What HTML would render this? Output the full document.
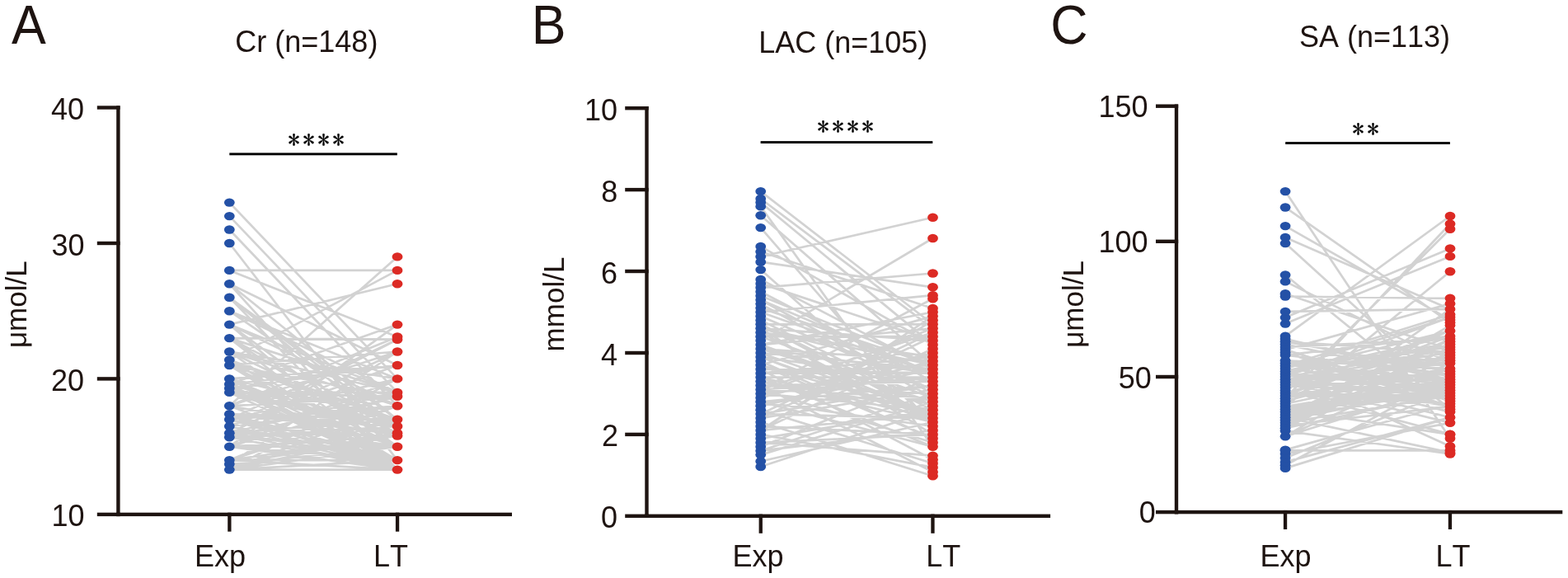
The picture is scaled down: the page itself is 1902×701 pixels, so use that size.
<!DOCTYPE html><html><head><meta charset="utf-8"><style>html,body{margin:0;padding:0;background:#fff;}svg{display:block}.s{font-family:"Liberation Sans",Arial,sans-serif;fill:#1e1411}.t{font-family:"IPAGothic","Liberation Serif",serif;fill:#000;stroke:#000;stroke-width:0.2px}text{font-kerning:none}</style></head><body>
<svg width="1902" height="701" viewBox="0 0 1902 701">
<rect width="1902" height="701" fill="#fff"/>
<path d="M278.3 245.6L482 459.4M278.3 262.1L482 475.9M278.3 278.5L482 492.3M278.3 295L482 558.1M278.3 327.9L482 327.9M278.3 327.9L482 408.4M278.3 492.3L482 311.4M278.3 436.4L482 327.9M278.3 393.6L482 344.3M278.3 475.9L482 525.2M278.3 470.9L482 558.1M278.3 569.6L482 558.1M278.3 569.6L482 569.6M278.3 525.2L482 569.6M278.3 502.2L482 525.2M278.3 569.6L482 569.6M278.3 569.6L482 569.6M278.3 459.4L482 569.6M278.3 517L482 492.3M278.3 569.6L482 558.1M278.3 541.7L482 541.7M278.3 502.2L482 569.6M278.3 517L482 411.7M278.3 517L482 569.6M278.3 569.6L482 569.6M278.3 530.2L482 517M278.3 410.1L482 569.6M278.3 475.9L482 569.6M278.3 508.8L482 569.6M278.3 492.3L482 528.5M278.3 436.4L482 525.2M278.3 426.5L482 525.2M278.3 459.4L482 541.7M278.3 558.1L482 558.1M278.3 502.2L482 569.6M278.3 459.4L482 508.8M278.3 530.2L482 541.7M278.3 470.9L482 569.6M278.3 443L482 508.8M278.3 530.2L482 480.8M278.3 459.4L482 569.6M278.3 563L482 541.7M278.3 569.6L482 569.6M278.3 525.2L482 558.1M278.3 517L482 558.1M278.3 569.6L482 541.7M278.3 569.6L482 569.6M278.3 569.6L482 492.3M278.3 525.2L482 475.9M278.3 502.2L482 558.1M278.3 569.6L482 525.2M278.3 569.6L482 569.6M278.3 436.4L482 508.8M278.3 470.9L482 525.2M278.3 541.7L482 558.1M278.3 475.9L482 480.8M278.3 525.2L482 508.8M278.3 344.3L482 569.6M278.3 466L482 517M278.3 541.7L482 558.1M278.3 563L482 528.5M278.3 558.1L482 528.5M278.3 558.1L482 569.6M278.3 426.5L482 569.6M278.3 443L482 558.1M278.3 558.1L482 475.9M278.3 492.3L482 569.6M278.3 563L482 528.5M278.3 443L482 480.8M278.3 508.8L482 541.7M278.3 541.7L482 459.4M278.3 393.6L482 475.9M278.3 541.7L482 528.5M278.3 492.3L482 408.4M278.3 502.2L482 517M278.3 459.4L482 541.7M278.3 475.9L482 517M278.3 569.6L482 569.6M278.3 470.9L482 569.6M278.3 569.6L482 459.4M278.3 541.7L482 569.6M278.3 492.3L482 569.6M278.3 508.8L482 459.4M278.3 466L482 569.6M278.3 475.9L482 525.2M278.3 443L482 569.6M278.3 436.4L482 517M278.3 410.1L482 541.7M278.3 508.8L482 492.3M278.3 466L482 443M278.3 344.3L482 508.8M278.3 558.1L482 492.3M278.3 475.9L482 475.9M278.3 466L482 525.2M278.3 530.2L482 517M278.3 541.7L482 393.6M278.3 443L482 569.6M278.3 410.1L482 517M278.3 525.2L482 426.5M278.3 525.2L482 569.6M278.3 377.2L482 517M278.3 344.3L482 443M278.3 558.1L482 492.3M278.3 410.1L482 569.6M278.3 475.9L482 541.7M278.3 492.3L482 480.8M278.3 508.8L482 558.1M278.3 525.2L482 528.5M278.3 558.1L482 569.6M278.3 426.5L482 525.2M278.3 569.6L482 508.8M278.3 393.6L482 569.6M278.3 508.8L482 569.6M278.3 470.9L482 443M278.3 393.6L482 541.7M278.3 459.4L482 443M278.3 459.4L482 541.7M278.3 541.7L482 480.8M278.3 502.2L482 508.8M278.3 525.2L482 508.8M278.3 563L482 525.2M278.3 393.6L482 492.3M278.3 569.6L482 508.8M278.3 377.2L482 459.4M278.3 443L482 541.7M278.3 508.8L482 411.7M278.3 410.1L482 475.9M278.3 426.5L482 475.9M278.3 360.8L482 569.6M278.3 517L482 492.3M278.3 436.4L482 558.1M278.3 426.5L482 569.6M278.3 517L482 443M278.3 360.8L482 517M278.3 360.8L482 528.5M278.3 492.3L482 528.5M278.3 466L482 393.6M278.3 459.4L482 558.1M278.3 377.2L482 459.4M278.3 492.3L482 426.5M278.3 426.5L482 459.4M278.3 426.5L482 492.3M278.3 530.2L482 569.6M278.3 377.2L482 475.9M278.3 360.8L482 508.8M278.3 563L482 426.5M278.3 443L482 426.5M278.3 410.1L482 411.7" stroke="#d2d2d2" stroke-width="2.7" fill="none"/>
<g fill="#2451a6"><ellipse cx="278.3" cy="569.6" rx="6.4" ry="5.2"/><ellipse cx="278.3" cy="563" rx="6.4" ry="5.2"/><ellipse cx="278.3" cy="558.1" rx="6.4" ry="5.2"/><ellipse cx="278.3" cy="541.7" rx="6.4" ry="5.2"/><ellipse cx="278.3" cy="530.2" rx="6.4" ry="5.2"/><ellipse cx="278.3" cy="525.2" rx="6.4" ry="5.2"/><ellipse cx="278.3" cy="517" rx="6.4" ry="5.2"/><ellipse cx="278.3" cy="508.8" rx="6.4" ry="5.2"/><ellipse cx="278.3" cy="502.2" rx="6.4" ry="5.2"/><ellipse cx="278.3" cy="492.3" rx="6.4" ry="5.2"/><ellipse cx="278.3" cy="475.9" rx="6.4" ry="5.2"/><ellipse cx="278.3" cy="470.9" rx="6.4" ry="5.2"/><ellipse cx="278.3" cy="466" rx="6.4" ry="5.2"/><ellipse cx="278.3" cy="459.4" rx="6.4" ry="5.2"/><ellipse cx="278.3" cy="443" rx="6.4" ry="5.2"/><ellipse cx="278.3" cy="436.4" rx="6.4" ry="5.2"/><ellipse cx="278.3" cy="426.5" rx="6.4" ry="5.2"/><ellipse cx="278.3" cy="410.1" rx="6.4" ry="5.2"/><ellipse cx="278.3" cy="393.6" rx="6.4" ry="5.2"/><ellipse cx="278.3" cy="377.2" rx="6.4" ry="5.2"/><ellipse cx="278.3" cy="360.8" rx="6.4" ry="5.2"/><ellipse cx="278.3" cy="344.3" rx="6.4" ry="5.2"/><ellipse cx="278.3" cy="327.9" rx="6.4" ry="5.2"/><ellipse cx="278.3" cy="295" rx="6.4" ry="5.2"/><ellipse cx="278.3" cy="278.5" rx="6.4" ry="5.2"/><ellipse cx="278.3" cy="262.1" rx="6.4" ry="5.2"/><ellipse cx="278.3" cy="245.6" rx="6.4" ry="5.2"/></g>
<g fill="#dc2a24"><ellipse cx="482" cy="569.6" rx="6.4" ry="5.2"/><ellipse cx="482" cy="558.1" rx="6.4" ry="5.2"/><ellipse cx="482" cy="541.7" rx="6.4" ry="5.2"/><ellipse cx="482" cy="528.5" rx="6.4" ry="5.2"/><ellipse cx="482" cy="525.2" rx="6.4" ry="5.2"/><ellipse cx="482" cy="517" rx="6.4" ry="5.2"/><ellipse cx="482" cy="508.8" rx="6.4" ry="5.2"/><ellipse cx="482" cy="492.3" rx="6.4" ry="5.2"/><ellipse cx="482" cy="480.8" rx="6.4" ry="5.2"/><ellipse cx="482" cy="475.9" rx="6.4" ry="5.2"/><ellipse cx="482" cy="459.4" rx="6.4" ry="5.2"/><ellipse cx="482" cy="443" rx="6.4" ry="5.2"/><ellipse cx="482" cy="426.5" rx="6.4" ry="5.2"/><ellipse cx="482" cy="411.7" rx="6.4" ry="5.2"/><ellipse cx="482" cy="408.4" rx="6.4" ry="5.2"/><ellipse cx="482" cy="393.6" rx="6.4" ry="5.2"/><ellipse cx="482" cy="344.3" rx="6.4" ry="5.2"/><ellipse cx="482" cy="327.9" rx="6.4" ry="5.2"/><ellipse cx="482" cy="311.4" rx="6.4" ry="5.2"/></g>
<g fill="#1e1411"><rect x="141.2" y="128.3" width="4.4" height="497.8"/><rect x="117.8" y="621.7" width="27.8" height="4.4"/><rect x="117.8" y="457.2" width="27.8" height="4.4"/><rect x="117.8" y="292.8" width="27.8" height="4.4"/><rect x="117.8" y="128.3" width="27.8" height="4.4"/><rect x="141.2" y="621.7" width="479.8" height="4.4"/><rect x="276.2" y="621.7" width="4.3" height="23"/><rect x="479.9" y="621.7" width="4.3" height="23"/></g>
<path d="M922.7 311.2L1131.5 263.8M922.7 413.1L1131.5 289M922.7 232.1L1131.5 393.3M922.7 241L1131.5 398.3M922.7 245.5L1131.5 418.1M922.7 250.4L1131.5 541.7M922.7 261.3L1131.5 442.8M922.7 276.1L1131.5 517M922.7 298.9L1131.5 418.1M922.7 317.7L1131.5 348.3M922.7 305.3L1131.5 374M922.7 566L1131.5 497.2M922.7 559.5L1131.5 512M922.7 551.6L1131.5 487.3M922.7 546.7L1131.5 521.9M922.7 512L1131.5 577.3M922.7 526.9L1131.5 566.9M922.7 497.2L1131.5 562M922.7 536.8L1131.5 552.6M922.7 467.5L1131.5 572.4M922.7 447.7L1131.5 557.5M922.7 541.7L1131.5 457.6M922.7 546.7L1131.5 477.4M922.7 536.8L1131.5 526.9M922.7 531.8L1131.5 497.2M922.7 521.9L1131.5 388.4M922.7 521.9L1131.5 383.4M922.7 521.9L1131.5 423M922.7 521.9L1131.5 502.1M922.7 517L1131.5 526.9M922.7 507.1L1131.5 408.2M922.7 507.1L1131.5 472.5M922.7 502.1L1131.5 467.5M922.7 502.1L1131.5 507.1M922.7 502.1L1131.5 403.2M922.7 492.3L1131.5 447.7M922.7 492.3L1131.5 437.9M922.7 487.3L1131.5 467.5M922.7 487.3L1131.5 517M922.7 487.3L1131.5 541.7M922.7 487.3L1131.5 517M922.7 482.4L1131.5 428M922.7 477.4L1131.5 398.3M922.7 477.4L1131.5 457.6M922.7 477.4L1131.5 497.2M922.7 472.5L1131.5 362.2M922.7 472.5L1131.5 457.6M922.7 472.5L1131.5 536.8M922.7 472.5L1131.5 457.6M922.7 472.5L1131.5 482.4M922.7 472.5L1131.5 403.2M922.7 467.5L1131.5 462.6M922.7 467.5L1131.5 477.4M922.7 462.6L1131.5 512M922.7 462.6L1131.5 497.2M922.7 462.6L1131.5 512M922.7 457.6L1131.5 457.6M922.7 457.6L1131.5 507.1M922.7 457.6L1131.5 541.7M922.7 452.7L1131.5 442.8M922.7 452.7L1131.5 432.9M922.7 452.7L1131.5 452.7M922.7 447.7L1131.5 452.7M922.7 442.8L1131.5 502.1M922.7 442.8L1131.5 531.8M922.7 442.8L1131.5 383.4M922.7 437.9L1131.5 531.8M922.7 432.9L1131.5 462.6M922.7 432.9L1131.5 507.1M922.7 432.9L1131.5 512M922.7 428L1131.5 447.7M922.7 428L1131.5 502.1M922.7 423L1131.5 452.7M922.7 423L1131.5 437.9M922.7 423L1131.5 487.3M922.7 418.1L1131.5 378.5M922.7 418.1L1131.5 492.3M922.7 418.1L1131.5 507.1M922.7 418.1L1131.5 502.1M922.7 418.1L1131.5 398.3M922.7 408.2L1131.5 408.2M922.7 408.2L1131.5 482.4M922.7 403.2L1131.5 432.9M922.7 403.2L1131.5 512M922.7 398.3L1131.5 526.9M922.7 398.3L1131.5 413.1M922.7 398.3L1131.5 452.7M922.7 398.3L1131.5 442.8M922.7 393.3L1131.5 497.2M922.7 393.3L1131.5 507.1M922.7 393.3L1131.5 393.3M922.7 388.4L1131.5 492.3M922.7 383.4L1131.5 472.5M922.7 378.5L1131.5 358.2M922.7 378.5L1131.5 452.7M922.7 373.6L1131.5 442.8M922.7 368.6L1131.5 482.4M922.7 363.7L1131.5 452.7M922.7 363.7L1131.5 477.4M922.7 358.7L1131.5 442.8M922.7 353.8L1131.5 462.6M922.7 348.8L1131.5 331.5M922.7 343.9L1131.5 413.1M922.7 338.9L1131.5 447.7M922.7 327.1L1131.5 512" stroke="#d2d2d2" stroke-width="2.7" fill="none"/>
<g fill="#2451a6"><ellipse cx="922.7" cy="566" rx="6.4" ry="5.2"/><ellipse cx="922.7" cy="559.5" rx="6.4" ry="5.2"/><ellipse cx="922.7" cy="551.6" rx="6.4" ry="5.2"/><ellipse cx="922.7" cy="546.7" rx="6.4" ry="5.2"/><ellipse cx="922.7" cy="541.7" rx="6.4" ry="5.2"/><ellipse cx="922.7" cy="536.8" rx="6.4" ry="5.2"/><ellipse cx="922.7" cy="531.8" rx="6.4" ry="5.2"/><ellipse cx="922.7" cy="526.9" rx="6.4" ry="5.2"/><ellipse cx="922.7" cy="521.9" rx="6.4" ry="5.2"/><ellipse cx="922.7" cy="517" rx="6.4" ry="5.2"/><ellipse cx="922.7" cy="512" rx="6.4" ry="5.2"/><ellipse cx="922.7" cy="507.1" rx="6.4" ry="5.2"/><ellipse cx="922.7" cy="502.1" rx="6.4" ry="5.2"/><ellipse cx="922.7" cy="497.2" rx="6.4" ry="5.2"/><ellipse cx="922.7" cy="492.3" rx="6.4" ry="5.2"/><ellipse cx="922.7" cy="487.3" rx="6.4" ry="5.2"/><ellipse cx="922.7" cy="482.4" rx="6.4" ry="5.2"/><ellipse cx="922.7" cy="477.4" rx="6.4" ry="5.2"/><ellipse cx="922.7" cy="472.5" rx="6.4" ry="5.2"/><ellipse cx="922.7" cy="467.5" rx="6.4" ry="5.2"/><ellipse cx="922.7" cy="462.6" rx="6.4" ry="5.2"/><ellipse cx="922.7" cy="457.6" rx="6.4" ry="5.2"/><ellipse cx="922.7" cy="452.7" rx="6.4" ry="5.2"/><ellipse cx="922.7" cy="447.7" rx="6.4" ry="5.2"/><ellipse cx="922.7" cy="442.8" rx="6.4" ry="5.2"/><ellipse cx="922.7" cy="437.9" rx="6.4" ry="5.2"/><ellipse cx="922.7" cy="432.9" rx="6.4" ry="5.2"/><ellipse cx="922.7" cy="428" rx="6.4" ry="5.2"/><ellipse cx="922.7" cy="423" rx="6.4" ry="5.2"/><ellipse cx="922.7" cy="418.1" rx="6.4" ry="5.2"/><ellipse cx="922.7" cy="413.1" rx="6.4" ry="5.2"/><ellipse cx="922.7" cy="408.2" rx="6.4" ry="5.2"/><ellipse cx="922.7" cy="403.2" rx="6.4" ry="5.2"/><ellipse cx="922.7" cy="398.3" rx="6.4" ry="5.2"/><ellipse cx="922.7" cy="393.3" rx="6.4" ry="5.2"/><ellipse cx="922.7" cy="388.4" rx="6.4" ry="5.2"/><ellipse cx="922.7" cy="383.4" rx="6.4" ry="5.2"/><ellipse cx="922.7" cy="378.5" rx="6.4" ry="5.2"/><ellipse cx="922.7" cy="373.6" rx="6.4" ry="5.2"/><ellipse cx="922.7" cy="368.6" rx="6.4" ry="5.2"/><ellipse cx="922.7" cy="363.7" rx="6.4" ry="5.2"/><ellipse cx="922.7" cy="358.7" rx="6.4" ry="5.2"/><ellipse cx="922.7" cy="353.8" rx="6.4" ry="5.2"/><ellipse cx="922.7" cy="348.8" rx="6.4" ry="5.2"/><ellipse cx="922.7" cy="343.9" rx="6.4" ry="5.2"/><ellipse cx="922.7" cy="338.9" rx="6.4" ry="5.2"/><ellipse cx="922.7" cy="327.1" rx="6.4" ry="5.2"/><ellipse cx="922.7" cy="317.7" rx="6.4" ry="5.2"/><ellipse cx="922.7" cy="311.2" rx="6.4" ry="5.2"/><ellipse cx="922.7" cy="305.3" rx="6.4" ry="5.2"/><ellipse cx="922.7" cy="298.9" rx="6.4" ry="5.2"/><ellipse cx="922.7" cy="276.1" rx="6.4" ry="5.2"/><ellipse cx="922.7" cy="261.3" rx="6.4" ry="5.2"/><ellipse cx="922.7" cy="250.4" rx="6.4" ry="5.2"/><ellipse cx="922.7" cy="245.5" rx="6.4" ry="5.2"/><ellipse cx="922.7" cy="241" rx="6.4" ry="5.2"/><ellipse cx="922.7" cy="232.1" rx="6.4" ry="5.2"/></g>
<g fill="#dc2a24"><ellipse cx="1131.5" cy="577.3" rx="6.4" ry="5.2"/><ellipse cx="1131.5" cy="572.4" rx="6.4" ry="5.2"/><ellipse cx="1131.5" cy="566.9" rx="6.4" ry="5.2"/><ellipse cx="1131.5" cy="562" rx="6.4" ry="5.2"/><ellipse cx="1131.5" cy="557.5" rx="6.4" ry="5.2"/><ellipse cx="1131.5" cy="552.6" rx="6.4" ry="5.2"/><ellipse cx="1131.5" cy="541.7" rx="6.4" ry="5.2"/><ellipse cx="1131.5" cy="536.8" rx="6.4" ry="5.2"/><ellipse cx="1131.5" cy="531.8" rx="6.4" ry="5.2"/><ellipse cx="1131.5" cy="526.9" rx="6.4" ry="5.2"/><ellipse cx="1131.5" cy="521.9" rx="6.4" ry="5.2"/><ellipse cx="1131.5" cy="517" rx="6.4" ry="5.2"/><ellipse cx="1131.5" cy="512" rx="6.4" ry="5.2"/><ellipse cx="1131.5" cy="507.1" rx="6.4" ry="5.2"/><ellipse cx="1131.5" cy="502.1" rx="6.4" ry="5.2"/><ellipse cx="1131.5" cy="497.2" rx="6.4" ry="5.2"/><ellipse cx="1131.5" cy="492.3" rx="6.4" ry="5.2"/><ellipse cx="1131.5" cy="487.3" rx="6.4" ry="5.2"/><ellipse cx="1131.5" cy="482.4" rx="6.4" ry="5.2"/><ellipse cx="1131.5" cy="477.4" rx="6.4" ry="5.2"/><ellipse cx="1131.5" cy="472.5" rx="6.4" ry="5.2"/><ellipse cx="1131.5" cy="467.5" rx="6.4" ry="5.2"/><ellipse cx="1131.5" cy="462.6" rx="6.4" ry="5.2"/><ellipse cx="1131.5" cy="457.6" rx="6.4" ry="5.2"/><ellipse cx="1131.5" cy="452.7" rx="6.4" ry="5.2"/><ellipse cx="1131.5" cy="447.7" rx="6.4" ry="5.2"/><ellipse cx="1131.5" cy="442.8" rx="6.4" ry="5.2"/><ellipse cx="1131.5" cy="437.9" rx="6.4" ry="5.2"/><ellipse cx="1131.5" cy="432.9" rx="6.4" ry="5.2"/><ellipse cx="1131.5" cy="428" rx="6.4" ry="5.2"/><ellipse cx="1131.5" cy="423" rx="6.4" ry="5.2"/><ellipse cx="1131.5" cy="418.1" rx="6.4" ry="5.2"/><ellipse cx="1131.5" cy="413.1" rx="6.4" ry="5.2"/><ellipse cx="1131.5" cy="408.2" rx="6.4" ry="5.2"/><ellipse cx="1131.5" cy="403.2" rx="6.4" ry="5.2"/><ellipse cx="1131.5" cy="398.3" rx="6.4" ry="5.2"/><ellipse cx="1131.5" cy="393.3" rx="6.4" ry="5.2"/><ellipse cx="1131.5" cy="388.4" rx="6.4" ry="5.2"/><ellipse cx="1131.5" cy="383.4" rx="6.4" ry="5.2"/><ellipse cx="1131.5" cy="378.5" rx="6.4" ry="5.2"/><ellipse cx="1131.5" cy="374" rx="6.4" ry="5.2"/><ellipse cx="1131.5" cy="362.2" rx="6.4" ry="5.2"/><ellipse cx="1131.5" cy="358.2" rx="6.4" ry="5.2"/><ellipse cx="1131.5" cy="348.3" rx="6.4" ry="5.2"/><ellipse cx="1131.5" cy="331.5" rx="6.4" ry="5.2"/><ellipse cx="1131.5" cy="289" rx="6.4" ry="5.2"/><ellipse cx="1131.5" cy="263.8" rx="6.4" ry="5.2"/></g>
<g fill="#1e1411"><rect x="782.3" y="129" width="4.4" height="499"/><rect x="758.2" y="623.6" width="28.5" height="4.4"/><rect x="758.2" y="524.7" width="28.5" height="4.4"/><rect x="758.2" y="425.8" width="28.5" height="4.4"/><rect x="758.2" y="326.8" width="28.5" height="4.4"/><rect x="758.2" y="227.9" width="28.5" height="4.4"/><rect x="758.2" y="129" width="28.5" height="4.4"/><rect x="782.3" y="623.6" width="491.8" height="4.4"/><rect x="920.6" y="623.6" width="4.3" height="23.2"/><rect x="1129.3" y="623.6" width="4.3" height="23.2"/></g>
<path d="M1559.1 546.3L1759 546.3M1559.1 359.5L1759 361.8M1559.1 377.9L1759 374.9M1559.1 232.1L1759 531.8M1559.1 251.5L1759 391.3M1559.1 274.1L1759 388M1559.1 287.9L1759 374.9M1559.1 295.1L1759 476.7M1559.1 407.7L1759 262M1559.1 483.2L1759 271.5M1559.1 476.7L1759 277.7M1559.1 385.1L1759 301.4M1559.1 392.6L1759 310.9M1559.1 493.1L1759 329.3M1559.1 333.5L1759 496.4M1559.1 341.4L1759 440.6M1559.1 356.2L1759 424.1M1559.1 411L1759 457M1559.1 545.6L1759 489.8M1559.1 550.5L1759 512.8M1559.1 555.4L1759 473.4M1559.1 560.4L1759 506.2M1559.1 564.3L1759 457M1559.1 567.9L1759 506.2M1559.1 473.4L1759 526.6M1559.1 496.4L1759 526.9M1559.1 450.4L1759 541.3M1559.1 506.2L1759 548.9M1559.1 522.6L1759 550.5M1559.1 529.2L1759 466.8M1559.1 529.2L1759 440.6M1559.1 529.2L1759 411M1559.1 519.3L1759 476.7M1559.1 519.3L1759 420.9M1559.1 516.1L1759 427.4M1559.1 516.1L1759 493.1M1559.1 516.1L1759 374.9M1559.1 516.1L1759 411M1559.1 512.8L1759 427.4M1559.1 512.8L1759 447.1M1559.1 512.8L1759 394.6M1559.1 512.8L1759 479.9M1559.1 509.5L1759 466.8M1559.1 509.5L1759 470.1M1559.1 506.2L1759 447.1M1559.1 506.2L1759 473.4M1559.1 506.2L1759 447.1M1559.1 506.2L1759 411M1559.1 502.9L1759 411M1559.1 502.9L1759 460.2M1559.1 499.6L1759 463.5M1559.1 496.4L1759 463.5M1559.1 496.4L1759 476.7M1559.1 496.4L1759 479.9M1559.1 493.1L1759 473.4M1559.1 493.1L1759 460.2M1559.1 489.8L1759 447.1M1559.1 489.8L1759 447.1M1559.1 486.5L1759 434M1559.1 486.5L1759 434M1559.1 483.2L1759 437.3M1559.1 483.2L1759 407.7M1559.1 479.9L1759 401.2M1559.1 479.9L1759 447.1M1559.1 476.7L1759 417.6M1559.1 476.7L1759 489.8M1559.1 476.7L1759 479.9M1559.1 470.1L1759 434M1559.1 470.1L1759 430.7M1559.1 470.1L1759 401.2M1559.1 466.8L1759 460.2M1559.1 466.8L1759 479.9M1559.1 463.5L1759 476.7M1559.1 463.5L1759 414.3M1559.1 463.5L1759 440.6M1559.1 463.5L1759 466.8M1559.1 463.5L1759 512.8M1559.1 460.2L1759 483.2M1559.1 460.2L1759 460.2M1559.1 460.2L1759 440.6M1559.1 460.2L1759 453.7M1559.1 460.2L1759 427.4M1559.1 457L1759 493.1M1559.1 457L1759 506.2M1559.1 457L1759 384.7M1559.1 457L1759 424.1M1559.1 453.7L1759 407.7M1559.1 453.7L1759 473.4M1559.1 450.4L1759 401.2M1559.1 450.4L1759 420.9M1559.1 450.4L1759 499.6M1559.1 447.1L1759 470.1M1559.1 447.1L1759 384.7M1559.1 443.8L1759 434M1559.1 443.8L1759 420.9M1559.1 443.8L1759 381.5M1559.1 440.6L1759 466.8M1559.1 440.6L1759 460.2M1559.1 437.3L1759 447.1M1559.1 437.3L1759 479.9M1559.1 437.3L1759 473.4M1559.1 437.3L1759 493.1M1559.1 430.7L1759 407.7M1559.1 430.7L1759 453.7M1559.1 430.7L1759 407.7M1559.1 427.4L1759 493.1M1559.1 424.1L1759 486.5M1559.1 424.1L1759 368.3M1559.1 420.9L1759 411M1559.1 417.6L1759 460.2M1559.1 414.3L1759 450.4M1559.1 414.3L1759 427.4M1559.1 411L1759 463.5" stroke="#d2d2d2" stroke-width="2.7" fill="none"/>
<g fill="#2451a6"><ellipse cx="1559.1" cy="567.9" rx="6.4" ry="5.2"/><ellipse cx="1559.1" cy="564.3" rx="6.4" ry="5.2"/><ellipse cx="1559.1" cy="560.4" rx="6.4" ry="5.2"/><ellipse cx="1559.1" cy="555.4" rx="6.4" ry="5.2"/><ellipse cx="1559.1" cy="550.5" rx="6.4" ry="5.2"/><ellipse cx="1559.1" cy="546.3" rx="6.4" ry="5.2"/><ellipse cx="1559.1" cy="545.6" rx="6.4" ry="5.2"/><ellipse cx="1559.1" cy="529.2" rx="6.4" ry="5.2"/><ellipse cx="1559.1" cy="522.6" rx="6.4" ry="5.2"/><ellipse cx="1559.1" cy="519.3" rx="6.4" ry="5.2"/><ellipse cx="1559.1" cy="516.1" rx="6.4" ry="5.2"/><ellipse cx="1559.1" cy="512.8" rx="6.4" ry="5.2"/><ellipse cx="1559.1" cy="509.5" rx="6.4" ry="5.2"/><ellipse cx="1559.1" cy="506.2" rx="6.4" ry="5.2"/><ellipse cx="1559.1" cy="502.9" rx="6.4" ry="5.2"/><ellipse cx="1559.1" cy="499.6" rx="6.4" ry="5.2"/><ellipse cx="1559.1" cy="496.4" rx="6.4" ry="5.2"/><ellipse cx="1559.1" cy="493.1" rx="6.4" ry="5.2"/><ellipse cx="1559.1" cy="489.8" rx="6.4" ry="5.2"/><ellipse cx="1559.1" cy="486.5" rx="6.4" ry="5.2"/><ellipse cx="1559.1" cy="483.2" rx="6.4" ry="5.2"/><ellipse cx="1559.1" cy="479.9" rx="6.4" ry="5.2"/><ellipse cx="1559.1" cy="476.7" rx="6.4" ry="5.2"/><ellipse cx="1559.1" cy="473.4" rx="6.4" ry="5.2"/><ellipse cx="1559.1" cy="470.1" rx="6.4" ry="5.2"/><ellipse cx="1559.1" cy="466.8" rx="6.4" ry="5.2"/><ellipse cx="1559.1" cy="463.5" rx="6.4" ry="5.2"/><ellipse cx="1559.1" cy="460.2" rx="6.4" ry="5.2"/><ellipse cx="1559.1" cy="457" rx="6.4" ry="5.2"/><ellipse cx="1559.1" cy="453.7" rx="6.4" ry="5.2"/><ellipse cx="1559.1" cy="450.4" rx="6.4" ry="5.2"/><ellipse cx="1559.1" cy="447.1" rx="6.4" ry="5.2"/><ellipse cx="1559.1" cy="443.8" rx="6.4" ry="5.2"/><ellipse cx="1559.1" cy="440.6" rx="6.4" ry="5.2"/><ellipse cx="1559.1" cy="437.3" rx="6.4" ry="5.2"/><ellipse cx="1559.1" cy="430.7" rx="6.4" ry="5.2"/><ellipse cx="1559.1" cy="427.4" rx="6.4" ry="5.2"/><ellipse cx="1559.1" cy="424.1" rx="6.4" ry="5.2"/><ellipse cx="1559.1" cy="420.9" rx="6.4" ry="5.2"/><ellipse cx="1559.1" cy="417.6" rx="6.4" ry="5.2"/><ellipse cx="1559.1" cy="414.3" rx="6.4" ry="5.2"/><ellipse cx="1559.1" cy="411" rx="6.4" ry="5.2"/><ellipse cx="1559.1" cy="407.7" rx="6.4" ry="5.2"/><ellipse cx="1559.1" cy="392.6" rx="6.4" ry="5.2"/><ellipse cx="1559.1" cy="385.1" rx="6.4" ry="5.2"/><ellipse cx="1559.1" cy="377.9" rx="6.4" ry="5.2"/><ellipse cx="1559.1" cy="359.5" rx="6.4" ry="5.2"/><ellipse cx="1559.1" cy="356.2" rx="6.4" ry="5.2"/><ellipse cx="1559.1" cy="341.4" rx="6.4" ry="5.2"/><ellipse cx="1559.1" cy="333.5" rx="6.4" ry="5.2"/><ellipse cx="1559.1" cy="295.1" rx="6.4" ry="5.2"/><ellipse cx="1559.1" cy="287.9" rx="6.4" ry="5.2"/><ellipse cx="1559.1" cy="274.1" rx="6.4" ry="5.2"/><ellipse cx="1559.1" cy="251.5" rx="6.4" ry="5.2"/><ellipse cx="1559.1" cy="232.1" rx="6.4" ry="5.2"/></g>
<g fill="#dc2a24"><ellipse cx="1759" cy="550.5" rx="6.4" ry="5.2"/><ellipse cx="1759" cy="548.9" rx="6.4" ry="5.2"/><ellipse cx="1759" cy="546.3" rx="6.4" ry="5.2"/><ellipse cx="1759" cy="541.3" rx="6.4" ry="5.2"/><ellipse cx="1759" cy="531.8" rx="6.4" ry="5.2"/><ellipse cx="1759" cy="526.9" rx="6.4" ry="5.2"/><ellipse cx="1759" cy="526.6" rx="6.4" ry="5.2"/><ellipse cx="1759" cy="512.8" rx="6.4" ry="5.2"/><ellipse cx="1759" cy="506.2" rx="6.4" ry="5.2"/><ellipse cx="1759" cy="499.6" rx="6.4" ry="5.2"/><ellipse cx="1759" cy="496.4" rx="6.4" ry="5.2"/><ellipse cx="1759" cy="493.1" rx="6.4" ry="5.2"/><ellipse cx="1759" cy="489.8" rx="6.4" ry="5.2"/><ellipse cx="1759" cy="486.5" rx="6.4" ry="5.2"/><ellipse cx="1759" cy="483.2" rx="6.4" ry="5.2"/><ellipse cx="1759" cy="479.9" rx="6.4" ry="5.2"/><ellipse cx="1759" cy="476.7" rx="6.4" ry="5.2"/><ellipse cx="1759" cy="473.4" rx="6.4" ry="5.2"/><ellipse cx="1759" cy="470.1" rx="6.4" ry="5.2"/><ellipse cx="1759" cy="466.8" rx="6.4" ry="5.2"/><ellipse cx="1759" cy="463.5" rx="6.4" ry="5.2"/><ellipse cx="1759" cy="460.2" rx="6.4" ry="5.2"/><ellipse cx="1759" cy="457" rx="6.4" ry="5.2"/><ellipse cx="1759" cy="453.7" rx="6.4" ry="5.2"/><ellipse cx="1759" cy="450.4" rx="6.4" ry="5.2"/><ellipse cx="1759" cy="447.1" rx="6.4" ry="5.2"/><ellipse cx="1759" cy="440.6" rx="6.4" ry="5.2"/><ellipse cx="1759" cy="437.3" rx="6.4" ry="5.2"/><ellipse cx="1759" cy="434" rx="6.4" ry="5.2"/><ellipse cx="1759" cy="430.7" rx="6.4" ry="5.2"/><ellipse cx="1759" cy="427.4" rx="6.4" ry="5.2"/><ellipse cx="1759" cy="424.1" rx="6.4" ry="5.2"/><ellipse cx="1759" cy="420.9" rx="6.4" ry="5.2"/><ellipse cx="1759" cy="417.6" rx="6.4" ry="5.2"/><ellipse cx="1759" cy="414.3" rx="6.4" ry="5.2"/><ellipse cx="1759" cy="411" rx="6.4" ry="5.2"/><ellipse cx="1759" cy="407.7" rx="6.4" ry="5.2"/><ellipse cx="1759" cy="401.2" rx="6.4" ry="5.2"/><ellipse cx="1759" cy="394.6" rx="6.4" ry="5.2"/><ellipse cx="1759" cy="391.3" rx="6.4" ry="5.2"/><ellipse cx="1759" cy="388" rx="6.4" ry="5.2"/><ellipse cx="1759" cy="384.7" rx="6.4" ry="5.2"/><ellipse cx="1759" cy="381.5" rx="6.4" ry="5.2"/><ellipse cx="1759" cy="374.9" rx="6.4" ry="5.2"/><ellipse cx="1759" cy="368.3" rx="6.4" ry="5.2"/><ellipse cx="1759" cy="361.8" rx="6.4" ry="5.2"/><ellipse cx="1759" cy="329.3" rx="6.4" ry="5.2"/><ellipse cx="1759" cy="310.9" rx="6.4" ry="5.2"/><ellipse cx="1759" cy="301.4" rx="6.4" ry="5.2"/><ellipse cx="1759" cy="277.7" rx="6.4" ry="5.2"/><ellipse cx="1759" cy="271.5" rx="6.4" ry="5.2"/><ellipse cx="1759" cy="262" rx="6.4" ry="5.2"/></g>
<g fill="#1e1411"><rect x="1424.8" y="126.5" width="4.4" height="496.8"/><rect x="1402" y="618.9" width="27.2" height="4.4"/><rect x="1402" y="454.8" width="27.2" height="4.4"/><rect x="1402" y="290.6" width="27.2" height="4.4"/><rect x="1402" y="126.5" width="27.2" height="4.4"/><rect x="1424.8" y="618.9" width="470.5" height="4.4"/><rect x="1556.9" y="618.9" width="4.3" height="23.1"/><rect x="1756.8" y="618.9" width="4.3" height="23.1"/></g>
<text class="s" transform="translate(13.9 52.7) scale(0.95 1)" font-size="66">A</text>
<text class="s" transform="translate(644.8 52.6) scale(0.95 1)" font-size="66">B</text>
<text class="s" transform="translate(1274.2 52.6) scale(0.95 1)" font-size="66">C</text>
<text class="s" transform="translate(285.3 63.4)" font-size="36">Cr (n=148)</text>
<text class="s" transform="translate(920.2 63.8)" font-size="36">LAC (n=105)</text>
<text class="s" transform="translate(1576 57.2)" font-size="36">SA (n=113)</text>
<text class="s" transform="translate(102.1 144.8)" font-size="36" text-anchor="end">40</text>
<text class="s" transform="translate(102.5 309.9)" font-size="36" text-anchor="end">30</text>
<text class="s" transform="translate(102 473.9)" font-size="36" text-anchor="end">20</text>
<text class="s" transform="translate(102.5 637.6)" font-size="36" text-anchor="end">10</text>
<text class="s" transform="translate(749.1 146)" font-size="36" text-anchor="end">10</text>
<text class="s" transform="translate(749.2 245.1)" font-size="36" text-anchor="end">8</text>
<text class="s" transform="translate(749 344.1)" font-size="36" text-anchor="end">6</text>
<text class="s" transform="translate(749 442.6)" font-size="36" text-anchor="end">4</text>
<text class="s" transform="translate(750 541.4)" font-size="36" text-anchor="end">2</text>
<text class="s" transform="translate(749 640.2)" font-size="36" text-anchor="end">0</text>
<text class="s" transform="translate(1392.5 141.9)" font-size="36" text-anchor="end">150</text>
<text class="s" transform="translate(1392.5 306.2)" font-size="36" text-anchor="end">100</text>
<text class="s" transform="translate(1396.8 470.7)" font-size="36" text-anchor="end">50</text>
<text class="s" transform="translate(1401.8 633.5)" font-size="36" text-anchor="end">0</text>
<text class="s" transform="translate(32.4 422.1) rotate(-90)" font-size="35">μmol/L</text>
<text class="s" transform="translate(684.2 426.4) rotate(-90)" font-size="35">mmol/L</text>
<text class="s" transform="translate(1314.3 421.8) rotate(-90)" font-size="35">μmol/L</text>
<text class="s" transform="translate(235.9 687.3)" font-size="36">Exp</text>
<text class="s" transform="translate(453.1 687.1)" font-size="36">LT</text>
<text class="s" transform="translate(888.5 687.3)" font-size="36">Exp</text>
<text class="s" transform="translate(1123.3 687.1)" font-size="36">LT</text>
<text class="s" transform="translate(1528.5 687.3)" font-size="36">Exp</text>
<text class="s" transform="translate(1741.6 687.1)" font-size="36">LT</text>
<text class="t" transform="translate(349.2 179.8)" font-size="29" letter-spacing="3.5">****</text>
<text class="t" transform="translate(991.2 163.9)" font-size="29" letter-spacing="3.5">****</text>
<text class="t" transform="translate(1640.2 166.6)" font-size="29" letter-spacing="3.5">**</text>
<rect x="278.3" y="185.4" width="203.5" height="2.9" fill="#000"/>
<rect x="922.6" y="171.1" width="208.7" height="2.9" fill="#000"/>
<rect x="1559.2" y="172.1" width="199.7" height="2.9" fill="#000"/>
</svg></body></html>
